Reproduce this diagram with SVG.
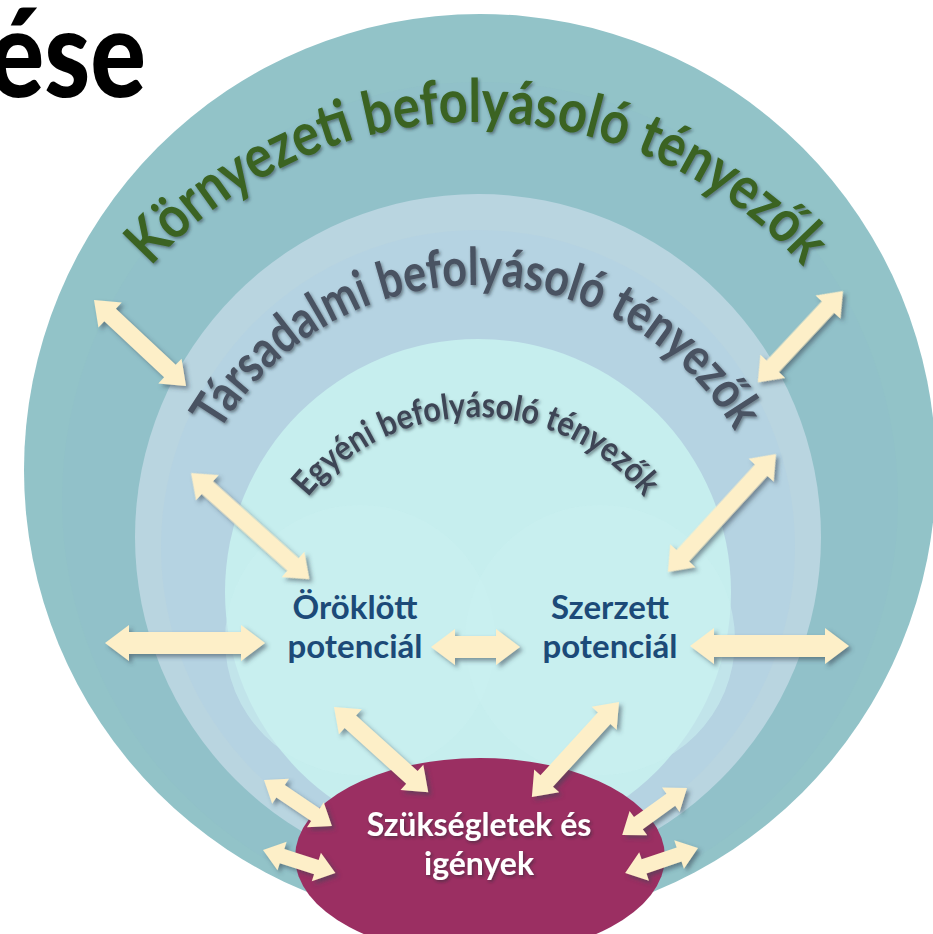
<svg xmlns="http://www.w3.org/2000/svg" width="933" height="934" viewBox="0 0 933 934">
<style>
.arrow{fill:#fdefc8}
.curve{font-family:Lato,"Open Sans","Liberation Sans",sans-serif;font-weight:700}
.node{font-family:Lato,"Open Sans","Liberation Sans",sans-serif;font-weight:700;font-size:33px;text-anchor:middle}
</style>
<defs>
<filter id="sh" x="-20%" y="-20%" width="140%" height="140%">
<feDropShadow dx="3" dy="3" stdDeviation="2" flood-color="#3a4a55" flood-opacity="0.55"/>
</filter>
<filter id="tsh" x="-10%" y="-10%" width="120%" height="130%">
<feDropShadow dx="1.5" dy="2" stdDeviation="1.5" flood-color="#1e2a30" flood-opacity="0.5"/>
</filter>
<path id="pK" d="M 37,562 A 440 440 0 0 1 917,562"/>
<path id="pT" d="M 177,585 A 300 300 0 0 1 777,585"/>
<path id="pE" d="M 260,633 A 216 216 0 0 1 692,633"/>
</defs>
<rect width="933" height="934" fill="#ffffff"/>
<g id="title">
<text transform="translate(146,97) scale(1,1.17)" font-family="Lato,'Open Sans','Liberation Sans',sans-serif" font-weight="900" font-size="104" text-anchor="end" fill="#000">ése</text>
</g>
<g id="ring-outer">
<circle cx="480" cy="470" r="456" fill="#92c3c8"/>
<circle cx="480" cy="500" r="418" fill="#8fbfca" opacity="0.5"/>
<text class="curve" font-size="60" fill="#3a6422" filter="url(#tsh)"><textPath href="#pK" startOffset="50%" text-anchor="middle" textLength="735" lengthAdjust="spacingAndGlyphs">Környezeti befolyásoló tényezők</textPath></text>
</g>
<g id="ring-social">
<circle cx="478" cy="537" r="343" fill="#b9d5e0"/>
<circle cx="478" cy="547" r="317" fill="#b4d2e3" opacity="0.7"/>
<text class="curve" font-size="52" fill="#4a5262" filter="url(#tsh)"><textPath href="#pT" startOffset="50%" text-anchor="middle" textLength="620" lengthAdjust="spacingAndGlyphs">Társadalmi befolyásoló tényezők</textPath></text>
</g>
<g id="ring-individual">
<circle cx="478" cy="592" r="253" fill="#c6eeee"/>
<circle cx="360" cy="640" r="135" fill="#caf0f0" opacity="0.6"/>
<circle cx="600" cy="640" r="135" fill="#caf0f0" opacity="0.6"/>
<text class="curve" font-size="35" fill="#3e4555" filter="url(#tsh)"><textPath href="#pE" startOffset="50%" text-anchor="middle" textLength="385" lengthAdjust="spacingAndGlyphs">Egyéni befolyásoló tényezők</textPath></text>
</g>
<g id="node-oroklott">
<text class="node" fill="#1c4a78"><tspan x="355" y="619">Öröklött</tspan><tspan x="355" y="658">potenciál</tspan></text>
</g>
<g id="node-szerzett">
<text class="node" fill="#1c4a78"><tspan x="610" y="619">Szerzett</tspan><tspan x="610" y="658">potenciál</tspan></text>
</g>
<g id="node-szukseglet">
<ellipse cx="480" cy="857" rx="185" ry="99" fill="#9b2f62"/>
<text class="node" font-size="32" fill="#ffffff" filter="url(#tsh)" style="font-size:32px"><tspan x="479" y="836">Szükségletek és</tspan><tspan x="479" y="875">igények</tspan></text>
</g>
<g id="connectors" filter="url(#sh)">
<polygon class="arrow" transform="translate(94,300) rotate(43.1)" points="0,0 22,-17 22,-8.5 104,-8.5 104,-17 126,0 104,17 104,8.5 22,8.5 22,17"/>
<polygon class="arrow" transform="translate(191,473) rotate(41.9)" points="0,0 22,-17 22,-8.5 137,-8.5 137,-17 159,0 137,17 137,8.5 22,8.5 22,17"/>
<polygon class="arrow" transform="translate(843,291) rotate(133)" points="0,0 22,-17 22,-8.5 103,-8.5 103,-17 125,0 103,17 103,8.5 22,8.5 22,17"/>
<polygon class="arrow" transform="translate(776,454) rotate(132.5)" points="0,0 22,-17 22,-8.5 138,-8.5 138,-17 160,0 138,17 138,8.5 22,8.5 22,17"/>
<polygon class="arrow" transform="translate(105,643)" points="0,0 24,-18 24,-11 136,-11 136,-18 160,0 136,18 136,11 24,11 24,18"/>
<polygon class="arrow" transform="translate(431,647)" points="0,0 24,-18 24,-11 65,-11 65,-18 89,0 65,18 65,11 24,11 24,18"/>
<polygon class="arrow" transform="translate(690,646)" points="0,0 24,-18 24,-11 135,-11 135,-18 159,0 135,18 135,11 24,11 24,18"/>
<polygon class="arrow" transform="translate(334,707) rotate(42.1)" points="0,0 22,-17 22,-8.5 105,-8.5 105,-17 127,0 105,17 105,8.5 22,8.5 22,17"/>
<polygon class="arrow" transform="translate(619,702) rotate(132.5)" points="0,0 22,-17 22,-8.5 107,-8.5 107,-17 129,0 107,17 107,8.5 22,8.5 22,17"/>
<polygon class="arrow" transform="translate(264,780) rotate(34.1)" points="0,0 20,-15 20,-7.5 62,-7.5 62,-15 82,0 62,15 62,7.5 20,7.5 20,15"/>
<polygon class="arrow" transform="translate(263,850) rotate(17.7)" points="0,0 20,-15 20,-7.5 56,-7.5 56,-15 76,0 56,15 56,7.5 20,7.5 20,15"/>
<polygon class="arrow" transform="translate(687,788) rotate(144.1)" points="0,0 20,-15 20,-7.5 60,-7.5 60,-15 80,0 60,15 60,7.5 20,7.5 20,15"/>
<polygon class="arrow" transform="translate(698,848) rotate(161.1)" points="0,0 20,-15 20,-7.5 57,-7.5 57,-15 77,0 57,15 57,7.5 20,7.5 20,15"/>
</g>
</svg>
